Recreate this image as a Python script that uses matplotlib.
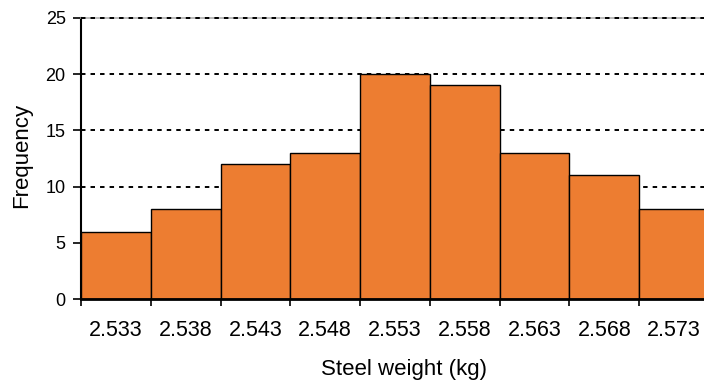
import matplotlib.pyplot as plt
import numpy as np

plt.rcParams['font.family'] = ['Liberation Sans', 'DejaVu Sans']

bins = ['2.533', '2.538', '2.543', '2.548', '2.553', '2.558', '2.563', '2.568', '2.573']
freq = [6, 8, 12, 13, 20, 19, 13, 11, 8]

W, H = 704, 386
fig = plt.figure(figsize=(W / 100, H / 100), dpi=100)
ax = fig.add_axes([81 / W, 87 / H, 628 / W, 281 / H])

x = np.arange(len(bins))
ax.bar(x, freq, width=1.0, color='#ED7D31', edgecolor='black', linewidth=1.0, zorder=3)

ax.set_xlim(-0.5, len(bins) - 0.5)
ax.set_ylim(0, 25)
ax.set_yticks(range(0, 26, 5))
for y in range(5, 26, 5):
    ax.axhline(y, color='black', linestyle=(0, (2.3, 2.6)), linewidth=1.4,
               zorder=2.6, clip_on=False)

# labels under the bar centres, tick marks on the bin edges
ax.set_xticks(x)
ax.set_xticklabels(bins)
ax.set_xticks(np.arange(-0.5, len(bins)), minor=True)
ax.tick_params(axis='x', which='major', length=0, pad=15, labelsize=15.5)
ax.tick_params(axis='x', which='minor', length=5, width=1.2, direction='out')
ax.tick_params(axis='y', length=6, width=1.2, labelsize=13, pad=5)

ax.spines['right'].set_visible(False)
ax.spines['top'].set_color('#b0b0b0')
ax.spines['top'].set_linewidth(1.2)
ax.spines['left'].set_linewidth(1.5)
ax.spines['bottom'].set_linewidth(2)
ax.spines['bottom'].set_zorder(4)

fig.text(404 / W, 1 - 369 / H, 'Steel weight (kg)', fontsize=16, ha='center', va='center')
fig.text(22 / W, 1 - 155 / H, 'Frequency', fontsize=16, ha='center', va='center',
         rotation=90)

fig.savefig('out.png', dpi=100)
